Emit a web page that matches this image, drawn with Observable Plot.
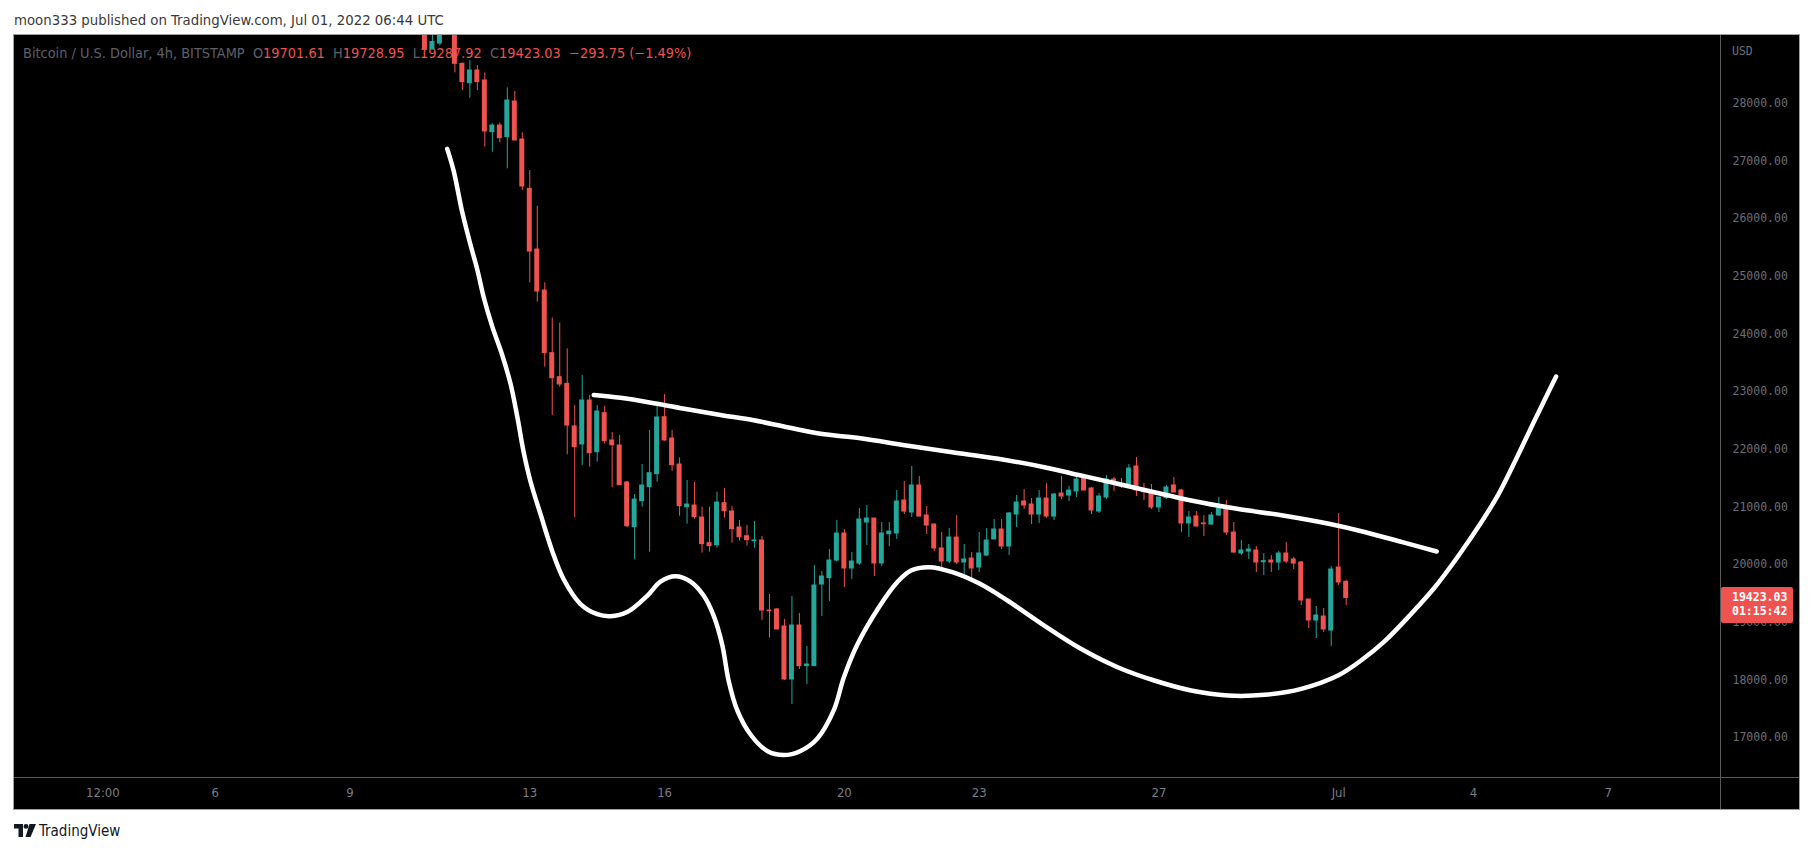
<!DOCTYPE html>
<html>
<head>
<meta charset="utf-8">
<script src="https://cdn.jsdelivr.net/npm/d3@7"></script>
<script src="https://cdn.jsdelivr.net/npm/@observablehq/plot@0.6"></script>
<style>
  html, body { margin: 0; padding: 0; background: #ffffff; }
  body { width: 1813px; height: 856px; position: relative; overflow: hidden; }
  .narrow { font-family: "Liberation Sans Narrow", "DejaVu Sans Condensed", "Roboto Condensed", sans-serif; }
  #hdr { position: absolute; left: 14px; top: 11px; font-size: 14.8px; color: #3a3a3a; white-space: nowrap; }
  #frame { position: absolute; left: 13px; top: 34px; width: 1785px; height: 774px; border: 1px solid #a0a0a0; background: #000; overflow: hidden; }
  #legend { position: absolute; left: 9px; top: 10px; font-size: 14.4px; white-space: nowrap; color: #5d606b; }
  #legend .v { color: #ef5350; }
  #chart { position: absolute; left: 0; top: 0; }
  .vline { position: absolute; left: 1706px; top: 0; width: 1px; height: 774px; background: #5a5a5a; }
  .hline { position: absolute; left: 0; top: 742px; width: 1785px; height: 1px; background: #5a5a5a; }
  #usd { position: absolute; left: 1718px; top: 9px; font: 11.5px "DejaVu Sans Mono", monospace; color: #6b6e78; }
  #pbox { position: absolute; left: 1707px; width: 72px; height: 36px; background: #ef5350; border-radius: 2px;
          color: #fff; font: bold 11.5px "DejaVu Sans Mono", monospace; line-height: 14px; padding-top: 3px; box-sizing: border-box; padding-left: 11px; }
  #foot { position: absolute; left: 14px; top: 822px; display: flex; align-items: center; gap: 3px; }
  #foot span { font-size: 15px; color: #131722; }
  svg [aria-label="y-axis tick label"] { font-family: "DejaVu Sans Mono", monospace; font-size: 11.5px; }
  svg [aria-label="x-axis tick label"] { font-family: "Liberation Sans Narrow", "DejaVu Sans Condensed", sans-serif; font-size: 13px; }
</style>
</head>
<body>
<div id="hdr" class="narrow">moon333 published on TradingView.com, Jul 01, 2022 06:44 UTC</div>
<div id="frame">
  <div id="legend" class="narrow">Bitcoin / U.S. Dollar, 4h, BITSTAMP&nbsp; O<span class="v">19701.61</span>&nbsp; H<span class="v">19728.95</span>&nbsp; L<span class="v">19287.92</span>&nbsp; C<span class="v">19423.03</span>&nbsp; <span class="v">−293.75 (−1.49%)</span></div>
  <div id="chart"></div>
  <div class="vline"></div>
  <div class="hline"></div>
  <div id="usd">USD</div>
  <div id="pbox">19423.03<br>01:15:42</div>
</div>
<div id="foot">
  <svg width="22" height="14" viewBox="0 0 22 14"><path d="M0 0h9v13H4.5V4.5H0z" fill="#131722"/><circle cx="12" cy="2.4" r="2.4" fill="#131722"/><path d="M15.5 0H22l-5.5 13h-5z" fill="#131722"/></svg>
  <span class="narrow">TradingView</span>
</div>
<script>
// ---- Candles (4h, Bitstamp BTC/USD), first visible bar ----
const firstCandle = "2022-06-10T16:00Z";
const opens = [29350,28940,29040,29550,29300,28687,28351,28571,28398,27501,27617,27415,28033,27374,26519,25466,24755,23668,23252,23137,22397,
  22085,22847,21951,22628,22154,22067,21425,20651,21101,21344,
  21570,22558,22188,21737,20997,21026,20818,20373,20338,21067,
  20922,20645,20494,20408,20419,19205,19223,18928,18009,18945,
  18240,18240,19656,19766,20072,20541,19934,20020,20732,20801,
  20020,20529,20541,21113,20905,21373,20853,20697,20281,20055,
  20471,20038,20107,19951,20159,20437,20610,20315,20870,21096,
  21044,20870,21148,20835,21234,21200,21269,21494,21321,20922,
  21165,21477,21390,21356,21703,21304,21269,20992,21154,21373,
  21286,20714,20836,20714,20697,20853,20974,20558,20194,20228,
  20246,20043,20072,20038,20194,20090,20038,19396,19032,19101,
  18858,19951,19701.61];
const highs = [29450,29300,29450,29650,29400,28700,28744,28658,28530,27646,27663,28270,28206,27490,26836,26212,24888,24281,24189,23744,22761,
  23281,22934,22761,22743,22292,22240,21443,21217,21737,22327,
  22743,22951,22327,21853,21460,21425,20997,20997,21258,21321,
  21009,20766,20679,20749,20489,19483,19240,19049,19448,19153,
  18581,19986,19882,20263,20766,20610,20211,20974,21026,20801,
  20732,20732,21286,21443,21703,21529,21009,20697,20558,20627,
  20853,20350,20211,20558,20627,20783,20783,20905,21200,21304,
  21148,21286,21408,21234,21529,21356,21581,21529,21339,21234,
  21546,21512,21494,21737,21859,21408,21391,21165,21373,21512,
  21304,20922,20922,20853,20905,21165,21113,20732,20419,20350,
  20315,20194,20159,20229,20385,20125,20055,19396,19275,19240,
  19968,20888,19728.95];
const lows = [28910,28930,29000,29250,28530,28224,28091,28224,27241,27154,27316,26865,27357,26490,24888,24553,23426,22587,23079,21905,20813,
  21720,21691,21778,22096,21333,21379,20639,20084,20997,20217,
  21431,22142,21622,20841,20703,20789,20200,20217,20286,20807,
  20373,20408,20321,20286,19032,18725,18876,17991,17575,18182,
  17922,18240,19101,19361,20043,19604,19743,19986,20333,19795,
  19969,20315,20437,20870,20818,20835,20523,20229,19934,20020,
  20003,19824,19726,19864,20142,20437,20263,20159,20645,20957,
  20697,20714,20801,20766,21130,21096,21165,21286,20870,20888,
  21130,21269,21321,21339,21183,21113,20957,20905,21130,21252,
  20558,20471,20662,20489,20680,20836,20506,20194,20159,20090,
  19864,19812,19864,19899,20020,19916,19292,18893,18720,18824,
  18581,19639,19287.92];
const closes = [28930,29065,29300,29350,28687,28369,28571,28369,27513,27617,27397,28050,27357,26559,25431,24738,23668,23235,23125,22414,22038,
  22848,21934,22657,22142,22073,21379,20668,21130,21373,21587,
  22553,22154,21726,21015,21044,20824,20356,20321,21078,20928,
  20616,20477,20425,20420,19205,19194,18876,18009,18945,18240,
  18269,19639,19795,20072,20541,19934,20055,20784,20801,20020,
  20541,20575,21096,20922,21373,20835,20679,20281,20055,20471,
  20038,20090,19934,20194,20419,20610,20315,20888,21078,21026,
  20870,21148,20835,21217,21182,21286,21477,21286,20940,21182,
  21477,21408,21356,21668,21287,21258,20992,21165,21339,21252,
  20714,20818,20662,20703,20853,20974,20558,20211,20246,20263,
  20038,20061,20038,20194,20055,20020,19379,19032,19119,18876,
  19916,19691,19423.03];

// ---- Hand-drawn cup curve (white) ----
const cupTimes = ["2022-06-11T03:54Z","2022-06-11T07:25Z","2022-06-11T11:55Z","2022-06-11T16:20Z","2022-06-11T19:55Z","2022-06-11T23:27Z",
  "2022-06-12T03:56Z","2022-06-12T09:16Z","2022-06-12T13:42Z","2022-06-12T17:17Z","2022-06-12T20:49Z","2022-06-13T00:23Z",
  "2022-06-13T05:44Z","2022-06-13T11:58Z","2022-06-13T18:10Z","2022-06-14T03:05Z","2022-06-14T12:01Z","2022-06-14T19:07Z",
  "2022-06-15T04:02Z","2022-06-15T14:43Z","2022-06-15T21:49Z","2022-06-16T05:49Z","2022-06-16T13:50Z","2022-06-16T20:56Z",
  "2022-06-17T02:17Z","2022-06-17T06:46Z","2022-06-17T10:17Z","2022-06-17T14:46Z","2022-06-17T21:53Z","2022-06-18T06:48Z",
  "2022-06-18T15:40Z","2022-06-19T00:35Z","2022-06-19T09:30Z","2022-06-19T18:22Z","2022-06-19T23:42Z","2022-06-20T06:52Z",
  "2022-06-20T18:27Z","2022-06-21T04:13Z","2022-06-21T11:35Z","2022-06-21T21:25Z","2022-06-22T09:39Z","2022-06-23T00:23Z",
  "2022-06-23T15:04Z","2022-06-24T10:44Z","2022-06-25T06:20Z","2022-06-26T01:56Z","2022-06-26T21:32Z","2022-06-27T17:11Z",
  "2022-06-28T12:47Z","2022-06-29T08:23Z","2022-06-30T04:02Z","2022-06-30T23:38Z","2022-07-01T11:55Z","2022-07-02T00:09Z",
  "2022-07-02T14:53Z","2022-07-03T03:07Z","2022-07-03T15:24Z","2022-07-04T03:38Z","2022-07-04T13:27Z","2022-07-04T23:14Z",
  "2022-07-05T09:03Z","2022-07-05T16:25Z","2022-07-05T20:07Z"];
const cupPrices = [27211,26822,26115,25548,25123,24629,
  24133,23637,23141,22575,21939,21443,
  20876,20239,19743,19318,19141,19107,
  19178,19460,19708,19800,19708,19460,
  19107,18611,17974,17478,17055,16770,
  16699,16770,16982,17478,18043,18611,
  19263,19696,19899,19956,19870,19668,
  19379,18945,18541,18222,17991,17818,
  17731,17743,17847,18078,18338,18660,
  19153,19600,20130,20709,21229,21864,
  22530,23021,23264];

// ---- Hand-drawn neckline (white) ----
const trendTimes = ["2022-06-14T10:11Z","2022-06-15T00:27Z","2022-06-15T18:14Z","2022-06-16T12:04Z","2022-06-17T05:52Z","2022-06-17T23:38Z",
  "2022-06-18T17:29Z","2022-06-19T11:16Z","2022-06-20T08:37Z","2022-06-21T09:08Z","2022-06-22T09:39Z","2022-06-23T10:10Z",
  "2022-06-24T10:44Z","2022-06-25T06:20Z","2022-06-26T01:56Z","2022-06-26T21:32Z","2022-06-27T17:11Z","2022-06-28T17:41Z",
  "2022-06-29T18:12Z","2022-06-30T18:43Z","2022-07-01T14:19Z","2022-07-02T09:58Z","2022-07-03T04:20Z"];
const trendPrices = [22943,22894,22801,22695,22596,22504,
  22384,22270,22194,22067,21951,21836,
  21691,21547,21403,21257,21113,20969,
  20853,20709,20563,20390,20229];

// ---- Axes ----
const priceTicks = [17000,18000,19000,20000,21000,22000,23000,24000,25000,26000,27000,28000];
const timeTickDates = ["2022-06-03T12:00Z","2022-06-06T00:00Z","2022-06-09T00:00Z","2022-06-13T00:00Z","2022-06-16T00:00Z","2022-06-20T00:00Z",
  "2022-06-23T00:00Z","2022-06-27T00:00Z","2022-07-01T00:00Z","2022-07-04T00:00Z","2022-07-07T00:00Z"];
const timeTickLabels = ["12:00","6","9","13","16","20","23","27","Jul","4","7"];
const lastClose = 19423.03;

const UP = "#26a69a", DOWN = "#ef5350";
const t0 = new Date(firstCandle);
const candles = opens.map((o, i) => ({
  date: d3.utcHour.offset(t0, 4 * i),
  open: o, high: highs[i], low: lows[i], close: closes[i],
  color: closes[i] >= o ? UP : DOWN
}));
const cup = cupTimes.map((t, i) => ({date: new Date(t), price: cupPrices[i]}));
const trend = trendTimes.map((t, i) => ({date: new Date(t), price: trendPrices[i]}));
const tickDates = timeTickDates.map(d => new Date(d));
const labelOf = new Map(tickDates.map((d, i) => [+d, timeTickLabels[i]]));

const chart = Plot.plot({
  width: 1785,
  height: 774,
  marginTop: 0,
  marginLeft: 0,
  marginRight: 79,
  marginBottom: 32,
  style: {background: "transparent", color: "#6b6e78", overflow: "hidden"},
  x: {type: "utc", domain: [new Date("2022-06-01T12:49Z"), new Date("2022-07-09T11:54Z")]},
  y: {domain: [16309, 29178]},
  color: {type: "identity"},
  marks: [
    Plot.axisY({anchor: "right", ticks: priceTicks, tickFormat: d => d.toFixed(2), tickSize: 0, tickPadding: 12, fill: "#6b6e78"}),
    Plot.axisX({ticks: tickDates, tickFormat: d => labelOf.get(+d), tickSize: 0, tickPadding: 10, fill: "#7a7d87"}),
    Plot.ruleX(candles, {x: "date", y1: "low", y2: "high", stroke: "color", strokeWidth: 1, clip: true}),
    Plot.rect(candles, {
      x1: d => d3.utcMinute.offset(d.date, -80),
      x2: d => d3.utcMinute.offset(d.date, 80),
      y1: d => Math.min(d.open, d.close),
      y2: d => Math.max(d.open, d.close),
      fill: "color", insetTop: -0.5, insetBottom: -0.5, clip: true
    }),
    Plot.line(cup, {x: "date", y: "price", stroke: "#ffffff", strokeWidth: 4.5, curve: "catmull-rom", strokeLinecap: "round", strokeLinejoin: "round", clip: true}),
    Plot.line(trend, {x: "date", y: "price", stroke: "#ffffff", strokeWidth: 4.5, curve: "catmull-rom", strokeLinecap: "round", strokeLinejoin: "round", clip: true})
  ]
});
document.getElementById("chart").appendChild(chart);
const yLast = chart.scale("y").apply(lastClose);
document.getElementById("pbox").style.top = (yLast - 10) + "px";
</script>
</body>
</html>
